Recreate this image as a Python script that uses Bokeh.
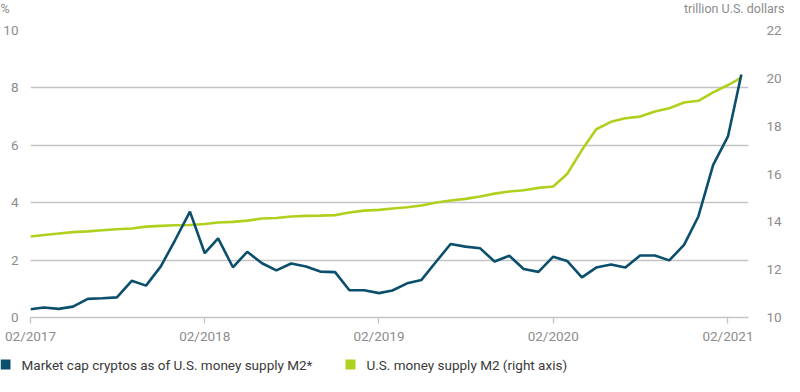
import pandas as pd
from bokeh.plotting import figure
from bokeh.layouts import column
from bokeh.models import (Range1d, LinearAxis, FixedTicker, DatetimeTickFormatter,
                          ColumnDataSource)
from bokeh.core.properties import value
from bokeh.embed import file_html
from bokeh.resources import INLINE

# ---- data -------------------------------------------------------------
start_month = "2017-02-01"
n_months = 50
crypto_share = [0.29, 0.35, 0.30, 0.38, 0.65, 0.67, 0.70, 1.28, 1.11, 1.78,
                2.70, 3.69, 2.24, 2.76, 1.75, 2.29, 1.89, 1.64, 1.88, 1.78,
                1.60, 1.58, 0.95, 0.95, 0.85, 0.94, 1.19, 1.31, 1.95, 2.56,
                2.47, 2.41, 1.95, 2.15, 1.69, 1.59, 2.12, 1.97, 1.40, 1.74,
                1.85, 1.74, 2.16, 2.16, 1.99, 2.53, 3.52, 5.32, 6.31, 8.47]
m2_supply = [13.39, 13.45, 13.51, 13.57, 13.60, 13.65, 13.69, 13.72, 13.80, 13.83,
             13.86, 13.87, 13.91, 13.97, 14.00, 14.05, 14.14, 14.16, 14.22, 14.25,
             14.26, 14.28, 14.39, 14.47, 14.50, 14.56, 14.61, 14.68, 14.81, 14.89,
             14.96, 15.06, 15.18, 15.27, 15.32, 15.42, 15.48, 16.00, 17.00, 17.87,
             18.18, 18.33, 18.40, 18.61, 18.75, 18.99, 19.06, 19.41, 19.72, 20.03]
x_tick_dates = ["2017-02-01", "2018-02-01", "2019-02-01", "2020-02-01", "2021-02-01"]
left_ticks = [0, 2, 4, 6, 8, 10]
right_ticks = [10, 12, 14, 16, 18, 20, 22]
left_unit = "%"
right_unit = "trillion U.S. dollars"
series_labels = ["Market cap cryptos as of U.S. money supply M2*",
                 "U.S. money supply M2 (right axis)"]

months = pd.date_range(start_month, periods=n_months, freq="MS")
source = ColumnDataSource(dict(month=months, crypto=crypto_share, m2=m2_supply))

BLUE = "#0b4f6c"
GREEN = "#afd11e"
GRID = "#c4c4c4"
TICK_TXT = "#8c8c8c"
LEG_TXT = "#3a3a3a"
FONT = "Roboto"

W = 784
H_TOP, H_MAIN, H_LEG = 22, 329, 25
BL, BR, BT, BB = 22, 28, 8, 34


def strip(height, yr):
    fig = figure(width=W, height=height, output_backend="svg", toolbar_location=None,
                 x_range=Range1d(0, W), y_range=yr, min_border=0,
                 x_axis_location=None, y_axis_location=None, frame_align=False)
    fig.grid.visible = False
    fig.outline_line_color = None
    fig.background_fill_color = "white"
    fig.border_fill_color = "white"
    return fig


# ---- top strip: unit labels --------------------------------------------
top = strip(H_TOP, Range1d(H_TOP, 0))
top.text(x=[0], y=[8], text=[left_unit], text_font=value(FONT),
         text_font_size="12.5px", text_color=TICK_TXT, text_baseline="middle")
top.text(x=[W], y=[8], text=[right_unit], text_font=value(FONT),
         text_font_size="12.5px", text_color=TICK_TXT, text_baseline="middle",
         text_align="right")

# ---- main chart ---------------------------------------------------------
p = figure(width=W, height=H_MAIN, output_backend="svg", toolbar_location=None,
           x_axis_type="datetime",
           x_range=Range1d(pd.Timestamp("2017-02-01"), pd.Timestamp("2021-03-16")),
           y_range=Range1d(0, 10),
           min_border_left=BL, min_border_right=BR, min_border_top=BT,
           min_border_bottom=BB, frame_align=False)
p.extra_y_ranges = {"m2": Range1d(10, 22)}
p.outline_line_color = None
p.background_fill_color = "white"
p.border_fill_color = "white"

p.xgrid.grid_line_color = None
p.ygrid.grid_line_color = GRID
p.ygrid.grid_line_width = 1.3
p.ygrid.ticker = FixedTicker(ticks=left_ticks)

ly = p.yaxis[0]
ly.ticker = FixedTicker(ticks=left_ticks)
ly.axis_line_color = None
ly.major_tick_line_color = None
ly.minor_tick_line_color = None
ly.major_label_text_color = TICK_TXT
ly.major_label_text_font = FONT
ly.major_label_text_font_size = "13.5px"
ly.major_label_standoff = 6

ry = LinearAxis(y_range_name="m2", ticker=FixedTicker(ticks=right_ticks))
ry.axis_line_color = None
ry.major_tick_line_color = None
ry.minor_tick_line_color = None
ry.major_label_text_color = TICK_TXT
ry.major_label_text_font = FONT
ry.major_label_text_font_size = "13.5px"
ry.major_label_standoff = 12
p.add_layout(ry, "right")

xa = p.xaxis[0]
xa.ticker = FixedTicker(ticks=[pd.Timestamp(d).value / 1e6 for d in x_tick_dates])
fmt = "%m/%Y"
xa.formatter = DatetimeTickFormatter(years=fmt, months=fmt, days=fmt, hours=fmt,
                                     minutes=fmt, seconds=fmt, milliseconds=fmt,
                                     microseconds=fmt, hourmin=fmt, minsec=fmt)
xa.axis_line_color = GRID
xa.axis_line_width = 1.3
xa.major_tick_line_color = GRID
xa.major_tick_line_width = 1.3
xa.major_tick_in = 0
xa.major_tick_out = 6
xa.minor_tick_line_color = None
xa.major_label_text_color = TICK_TXT
xa.major_label_text_font = FONT
xa.major_label_text_font_size = "13.5px"
xa.major_label_standoff = 4

p.line("month", "m2", source=source, y_range_name="m2", line_color=GREEN,
       line_width=2.6)
p.line("month", "crypto", source=source, line_color=BLUE, line_width=2.6)

# ---- legend strip -------------------------------------------------------
leg = strip(H_LEG, Range1d(H_LEG, 0))
leg_x = [0, 345]
leg_colors = [BLUE, GREEN]
LY = 13
leg.rect(x=[lx + 5 for lx in leg_x], y=[LY] * 2, width=10, height=10,
         fill_color=leg_colors, line_color=None)
leg.text(x=[lx + 21 for lx in leg_x], y=[LY] * 2, text=series_labels,
         text_font=value(FONT), text_font_size="13.5px", text_color=LEG_TXT,
         text_baseline="middle")

layout = column(top, p, leg, spacing=0)
open("out.html", "w").write(file_html(layout, INLINE))
